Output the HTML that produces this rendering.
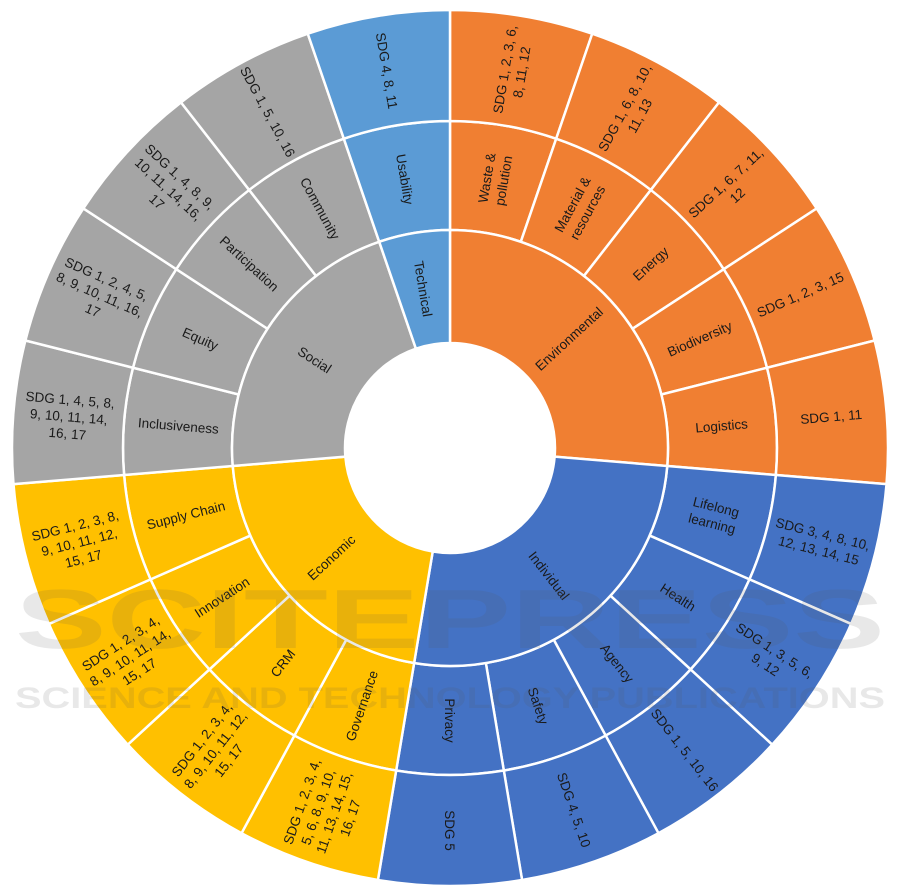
<!DOCTYPE html>
<html><head><meta charset="utf-8"><style>
html,body{margin:0;padding:0;background:#fff;}
svg{display:block;font-family:"Liberation Sans",sans-serif;}
</style></head><body>
<svg id="chart" width="901" height="896" viewBox="0 0 901 896" xmlns="http://www.w3.org/2000/svg">
<rect x="0" y="0" width="901" height="896" fill="#fff"/>
<g id="marks"></g>
<g id="wm" opacity="0.13" fill="#555" font-family="Liberation Sans, sans-serif" font-weight="bold">
<text x="450" y="648" text-anchor="middle" font-size="84" textLength="870" lengthAdjust="spacingAndGlyphs">SCITEPRESS</text>
<text x="450" y="708" text-anchor="middle" font-size="30" textLength="870" lengthAdjust="spacingAndGlyphs">SCIENCE AND TECHNOLOGY PUBLICATIONS</text>
</g>
</svg>
<script>
const categories = ["Environmental","Individual","Economic","Social","Technical"];
const categoryColors = ["#F07F32","#4472C4","#FFC000","#A5A5A5","#5B9BD5"];
const leafCategory = [0,0,0,0,0, 1,1,1,1,1, 2,2,2,2, 3,3,3,3, 4];
const leafNames = [["Waste &","pollution"],["Material &","resources"],["Energy"],["Biodiversity"],["Logistics"],
 ["Lifelong","learning"],["Health"],["Agency"],["Safety"],["Privacy"],
 ["Governance"],["CRM"],["Innovation"],["Supply Chain"],
 ["Inclusiveness"],["Equity"],["Participation"],["Community"],
 ["Usability"]];
const leafSDGs = [["SDG 1, 2, 3, 6,","8, 11, 12"],["SDG 1, 6, 8, 10,","11, 13"],["SDG 1, 6, 7, 11,","12"],["SDG 1, 2, 3, 15"],["SDG 1, 11"],
 ["SDG 3, 4, 8, 10,","12, 13, 14, 15"],["SDG 1, 3, 5, 6,","9, 12"],["SDG 1, 5, 10, 16"],["SDG 4, 5, 10"],["SDG 5"],
 ["SDG 1, 2, 3, 4,","5, 6, 8, 9, 10,","11, 13, 14, 15,","16, 17"],["SDG 1, 2, 3, 4,","8, 9, 10, 11, 12,","15, 17"],["SDG 1, 2, 3, 4,","8, 9, 10, 11, 14,","15, 17"],["SDG 1, 2, 3, 8,","9, 10, 11, 12,","15, 17"],
 ["SDG 1, 4, 5, 8,","9, 10, 11, 14,","16, 17"],["SDG 1, 2, 4, 5,","8, 9, 10, 11, 16,","17"],["SDG 1, 4, 8, 9,","10, 11, 14, 16,","17"],["SDG 1, 5, 10, 16"],
 ["SDG 4, 8, 11"]];
const leafValues = [1,1,1,1,1, 1,1,1,1,1, 1,1,1,1, 1,1,1,1, 1];

const CX=450, CY=448, R0=105, R1=218, R2=327, R3=438;
const NS="http://www.w3.org/2000/svg";
const g=document.getElementById('marks');
const total=leafValues.reduce((a,b)=>a+b,0);
function ang(v){return v/total*360;}
function pt(r,a){const t=a*Math.PI/180;return [CX+r*Math.sin(t),CY-r*Math.cos(t)];}
function arc(ri,ro,a0,a1){
  const la=(a1-a0)>180?1:0;
  const p1=pt(ro,a0),p2=pt(ro,a1),p3=pt(ri,a1),p4=pt(ri,a0);
  return `M${p1[0]},${p1[1]} A${ro},${ro} 0 ${la} 1 ${p2[0]},${p2[1]} L${p3[0]},${p3[1]} A${ri},${ri} 0 ${la} 0 ${p4[0]},${p4[1]} Z`;
}
function seg(ri,ro,a0,a1,color,name){
  const p=document.createElementNS(NS,'path');
  p.setAttribute('d',arc(ri,ro,a0,a1));
  p.setAttribute('fill',color);p.setAttribute('stroke','#fff');p.setAttribute('stroke-width','2.5');
  
  
  g.appendChild(p);
}
function label(lines,r,a,name){
  const p=pt(r,a);
  const rot=(a<=180)?a-90:a-270;
  const t=document.createElementNS(NS,'text');
  t.setAttribute('transform',`translate(${p[0]},${p[1]}) rotate(${rot})`);
  t.setAttribute('text-anchor','middle');t.setAttribute('font-size','13.5');t.setAttribute('fill','#1a1a1a');
  
  
  const lh=17, off=-(lines.length-1)*lh/2+5;
  lines.forEach((s,i)=>{const ts=document.createElementNS(NS,'tspan');ts.setAttribute('x','0');ts.setAttribute('y',String(off+i*lh));ts.textContent=s;t.appendChild(ts);});
  g.appendChild(t);
}
// leaves
let acc=0;
const catStart={},catEnd={};
leafValues.forEach((v,i)=>{
  const a0=ang(acc),a1=ang(acc+v);acc+=v;
  const c=leafCategory[i];
  if(catStart[c]===undefined)catStart[c]=a0;catEnd[c]=a1;
  const nm=leafNames[i].join('-').toLowerCase().replace(/[^a-z]+/g,'-');
  seg(R1,R2,a0,a1,categoryColors[c],'segment-'+nm);
  seg(R2,R3,a0,a1,categoryColors[c],'sdg-segment-'+nm);
  const m=(a0+a1)/2;
  label(leafNames[i],(R1+R2)/2,m,'label-'+nm);
  label(leafSDGs[i],(R2+R3)/2,m,'sdg-label-'+nm);
});
categories.forEach((c,i)=>{
  const nm=c.toLowerCase();
  seg(R0,R1,catStart[i],catEnd[i],categoryColors[i],'category-'+nm);
  label([c],(R0+R1)/2,(catStart[i]+catEnd[i])/2,'category-label-'+nm);
});
</script>
</body></html>
